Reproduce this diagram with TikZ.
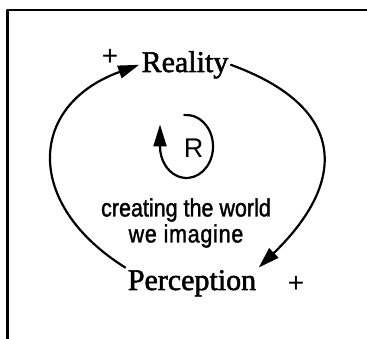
\documentclass[tikz,border=0pt]{standalone}
\usepackage{fontspec}
\setmainfont{Liberation Serif}
\setsansfont{Liberation Sans}
\newfontfamily\varfont[FakeBold=1.8]{Liberation Serif}
\newfontfamily\capfont[FakeStretch=0.86,FakeBold=1.4]{Liberation Sans}
\newfontfamily\capwidefont[FakeStretch=0.86,FakeBold=1.4,LetterSpace=3]{Liberation Sans}
\usetikzlibrary{arrows.meta}

\begin{document}
\begin{tikzpicture}[x=1pt,y=1pt,>={Triangle[length=21pt,width=13pt]}, line width=2.2pt, line join=round, line cap=round]
	\useasboundingbox (0,0) rectangle (367,339);
	\tikzset{var/.style={font=\varfont\fontsize{30}{32}\selectfont, inner sep=1.5pt, anchor=base}}
	\tikzset{sign/.style={font=\sffamily\fontsize{28}{30}\selectfont, inner sep=0pt}}
	% frame
	\draw (7.5,0) -- (7.5,329) -- (367,329);
	\node[var] (reality) at (185,267) {Reality};
	\node[var] (perception) at (192,49) {Perception};
	\node[sign] (plusR) at (110,282) {+};
	\node[sign] (plusP) at (296,55) {+};
	\draw[->] (perception.north west) to[out=148,in=200,looseness=1.5] (reality.west);
	\draw[->] (reality.east) to[out=-20,in=44,looseness=1.55] (perception.north east);
	% loop sign
	\node[font=\sffamily\fontsize{27}{28}\selectfont] (loop) at (193.5,191) {R};
	\draw[->,>={Triangle[length=22pt,width=13pt]}] (184.2,223.9) arc[start angle=95,end angle=-180,x radius=26.5,y radius=31.5] -- ++(0,22);
	\node[font=\capfont\fontsize{25}{26}\selectfont, align=center] (caption) at (186,116) {creating the world\\{\capwidefont we imagine}};
\end{tikzpicture}
\end{document}
